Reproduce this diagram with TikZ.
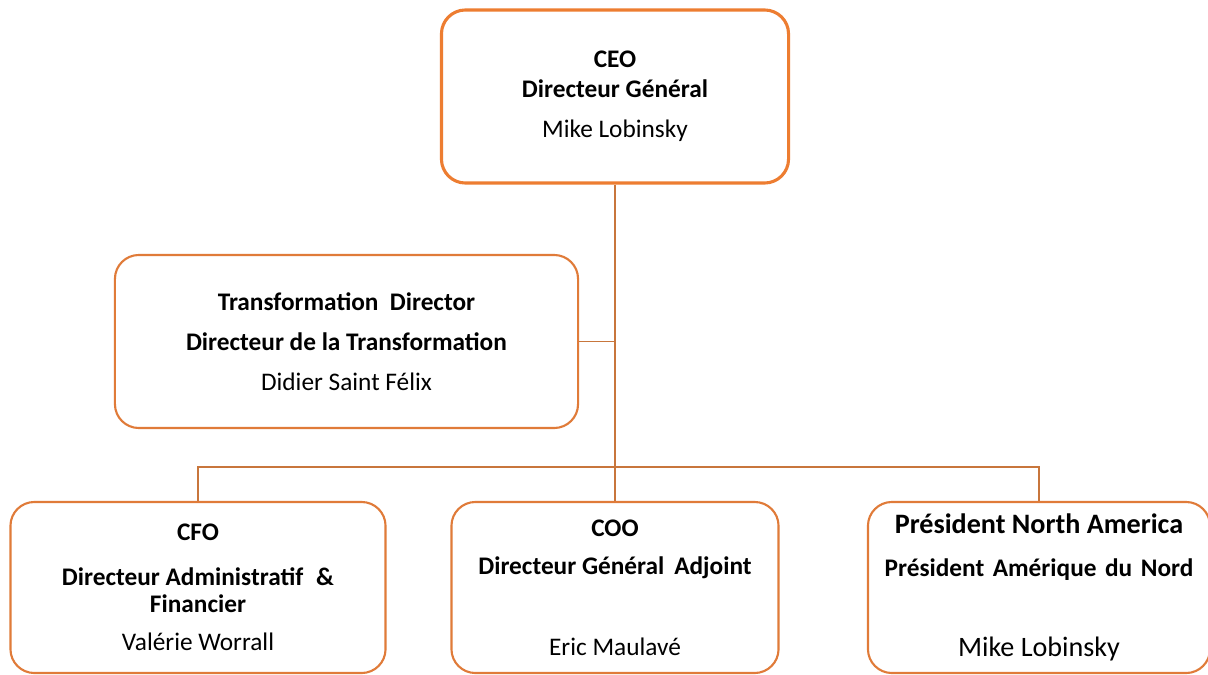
\documentclass[tikz,border=0pt]{standalone}
\usepackage{fontspec}
\setmainfont{Carlito}
\usepackage{tikz}
\usetikzlibrary{calc}
\definecolor{ceoorange}{HTML}{ED7D31}
\definecolor{boxorange}{HTML}{E07B39}
\definecolor{linkbrown}{HTML}{C8763C}

\begin{document}
\begin{tikzpicture}[x=0.025cm,y=-0.025cm,
			role/.style={draw=boxorange,line width=1.5pt,fill=white,rounded corners=17pt,minimum height=4.275cm,align=center,inner sep=0pt,font=\fontsize{18}{21.5}\selectfont},
			top/.style={role,draw=ceoorange,line width=2.2pt,minimum height=4.325cm},
			link/.style={draw=linkbrown,line width=0.8pt}
			]
			\fill[white] (0,0) rectangle (1208,675);
			\useasboundingbox (0,0) rectangle (1208,675);
			\node[top,minimum width=8.675cm] (ceo) at (615,96.5) {\textbf{CEO}\\\textbf{Directeur Général}\\[7pt]Mike Lobinsky};
			\node[role,minimum width=11.575cm,minimum height=4.325cm] (trans) at (346.5,341.5) {\textbf{Transformation\hspace{4pt} Director}\\[7pt]\textbf{Directeur de la Transformation}\\[7pt]Didier Saint Félix};
			\node[role,minimum width=9.375cm] (cfo) at (198,587.5) {\textbf{CFO}\\[10pt]\textbf{Directeur Administratif\hspace{5pt} \&}\\[-2pt]\textbf{Financier}\\[5.5pt]Valérie Worrall};
			\node[role,minimum width=8.175cm] (coo) at (615,587.5) {\textbf{COO}\\[5.5pt]\textbf{Directeur Général\hspace{3pt} Adjoint}\\[36pt]Eric Maulavé};
			\node[role,minimum width=8.55cm] (pres) at (1039,587.5) {{\fontsize{20}{21.5}\selectfont\textbf{Président North America}}\\[8.5pt]\textbf{Président\hspace{2pt} Amérique\hspace{2pt} du\hspace{2pt} Nord}\\[35.5pt]{\fontsize{20}{21.5}\selectfont Mike Lobinsky}};
			\coordinate (bus) at (615,467);
			\draw[link] (ceo.south) -- (coo.north);
			\draw[link] (trans.east) -- (trans.east -| ceo.south);
			\draw[link] (cfo.north) |- (bus) -| (pres.north);
		\end{tikzpicture}
\end{document}
